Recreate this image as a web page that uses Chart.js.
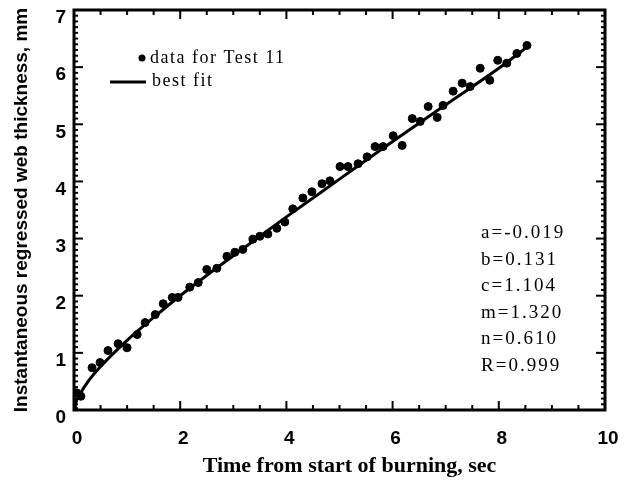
<!DOCTYPE html>
<html><head><meta charset="utf-8">
<script src="https://cdn.jsdelivr.net/npm/chart.js@4.4.1/dist/chart.umd.min.js"></script>
<style>html,body{margin:0;padding:0;background:#fff}#wrap{width:638px;height:485px}</style>
</head><body><div id="wrap"><canvas id="c" width="638" height="485"></canvas></div>
<script>
// measured data (Test 11)
const dataT = [0,0.05,0.13,0.34,0.49,0.64,0.83,1.0,1.19,1.34,1.53,1.68,1.85,1.96,2.18,2.34,2.50,2.69,2.88,3.03,3.18,3.37,3.50,3.65,3.82,3.97,4.12,4.31,4.48,4.67,4.82,5.01,5.16,5.35,5.52,5.67,5.82,6.01,6.18,6.37,6.52,6.67,6.84,6.95,7.14,7.31,7.46,7.65,7.83,7.98,8.15,8.34,8.53];
const dataY = [0,0.30,0.24,0.74,0.83,1.04,1.16,1.09,1.32,1.53,1.67,1.86,1.97,1.97,2.15,2.23,2.46,2.48,2.69,2.76,2.81,2.99,3.04,3.08,3.18,3.29,3.52,3.71,3.82,3.96,4.01,4.26,4.26,4.31,4.43,4.61,4.61,4.80,4.63,5.10,5.05,5.31,5.12,5.33,5.58,5.72,5.66,5.98,5.77,6.12,6.07,6.24,6.38];
// best-fit curve
const fitT = [0,0.05,0.1,0.25,0.5,1,1.5,2,3,4,5,6,7,8,8.53];
const fitY = [0,0.17,0.26,0.48,0.76,1.22,1.62,2.0,2.7,3.38,4.04,4.70,5.34,5.98,6.35];
const xTickLabels = ['0','2','4','6','8','10'];
const yTickLabels = ['0','1','2','3','4','5','6','7'];
const seriesNames = ['data for Test 11','best fit'];
const fitParams = ['a=-0.019','b=0.131','c=1.104','m=1.320','n=0.610','R=0.999'];
const xTitle = 'Time from start of burning, sec';
const yTitle = 'Instantaneous regressed web thickness, mm';

const pts = dataT.map((t,i)=>({x:t,y:dataY[i]}));
const fit = fitT.map((t,i)=>({x:t,y:fitY[i]}));

const frame = {
  id:'frame',
  afterDraw(chart){
    const {ctx, chartArea:a, scales:{x,y}} = chart;
    ctx.save();
    ctx.strokeStyle='#000';
    ctx.lineWidth=2;
    for(let i=0;i<=20;i++){
      const px=x.getPixelForValue(i*0.5);
      const L=(i%4===0)?9:5;
      ctx.beginPath();ctx.moveTo(px,a.bottom);ctx.lineTo(px,a.bottom-L);ctx.stroke();
      ctx.beginPath();ctx.moveTo(px,a.top);ctx.lineTo(px,a.top+L);ctx.stroke();
    }
    for(let i=0;i<=70;i++){
      const py=y.getPixelForValue(i/10);
      const L=(i%10===0)?9:4;
      ctx.beginPath();ctx.moveTo(a.left,py);ctx.lineTo(a.left+L,py);ctx.stroke();
      ctx.beginPath();ctx.moveTo(a.right,py);ctx.lineTo(a.right-L,py);ctx.stroke();
    }
    ctx.lineWidth=3;
    ctx.strokeRect(a.left,a.top,a.right-a.left,a.bottom-a.top);
    // x axis title
    ctx.fillStyle='#000';
    ctx.textBaseline='middle';
    ctx.textAlign='center';
    ctx.font='bold 22px "Liberation Serif"';
    ctx.fillText(xTitle,(a.left+a.right)/2+10,466);
    ctx.textAlign='left';
    // legend
    ctx.font='18px "Liberation Serif"';
    ctx.letterSpacing='1.5px';
    ctx.beginPath();ctx.arc(142,58,3.5,0,Math.PI*2);ctx.fill();
    ctx.fillText(seriesNames[0],150,58);
    ctx.lineWidth=3;
    ctx.beginPath();ctx.moveTo(110,82);ctx.lineTo(146,82);ctx.stroke();
    ctx.fillText(seriesNames[1],152,81);
    // fit parameters
    ctx.font='19px "Liberation Serif"';
    ctx.letterSpacing='2px';
    fitParams.forEach((s,i)=>ctx.fillText(s,481,233+i*26.6));
    ctx.restore();
  }
};

new Chart(document.getElementById('c'),{
  type:'scatter',
  data:{datasets:[
    {label:seriesNames[0],data:pts,backgroundColor:'#000',borderColor:'#000',pointRadius:4,pointHoverRadius:4},
    {label:seriesNames[1],data:fit,showLine:true,borderColor:'#000',borderWidth:3,pointRadius:0,cubicInterpolationMode:'monotone',fill:false}
  ]},
  plugins:[frame],
  options:{
    responsive:false,animation:false,
    layout:{padding:{top:10,right:33,left:10,bottom:0}},
    plugins:{legend:{display:false},tooltip:{enabled:false}},
    scales:{
      x:{type:'linear',min:0,max:10,
        afterBuildTicks(s){s.ticks=xTickLabels.map(v=>({value:Number(v)}));},
        ticks:{color:'#000',font:{family:'"Liberation Sans"',weight:'bold',size:19},padding:17,labelOffset:3,callback:(v)=>String(v),maxRotation:0},
        grid:{display:false,drawTicks:false},border:{display:false},
        title:{display:false,text:xTitle},
        afterFit(s){s.height=75;s.paddingLeft=0;s.paddingRight=0;}
      },
      y:{type:'linear',min:0,max:7,
        afterBuildTicks(s){s.ticks=yTickLabels.map(v=>({value:Number(v)}));},
        ticks:{color:'#000',font:{family:'"Liberation Sans"',weight:'bold',size:19},padding:8,labelOffset:8,callback:(v)=>String(v)},
        grid:{display:false,drawTicks:false},border:{display:false},
        title:{display:true,text:yTitle,color:'#000',font:{family:'"Liberation Sans"',weight:'bold',size:19},padding:{top:0,bottom:8}},
        afterFit(s){s.width=64;s.paddingTop=0;s.paddingBottom=0;}
      }
    }
  }
});
</script></body></html>
